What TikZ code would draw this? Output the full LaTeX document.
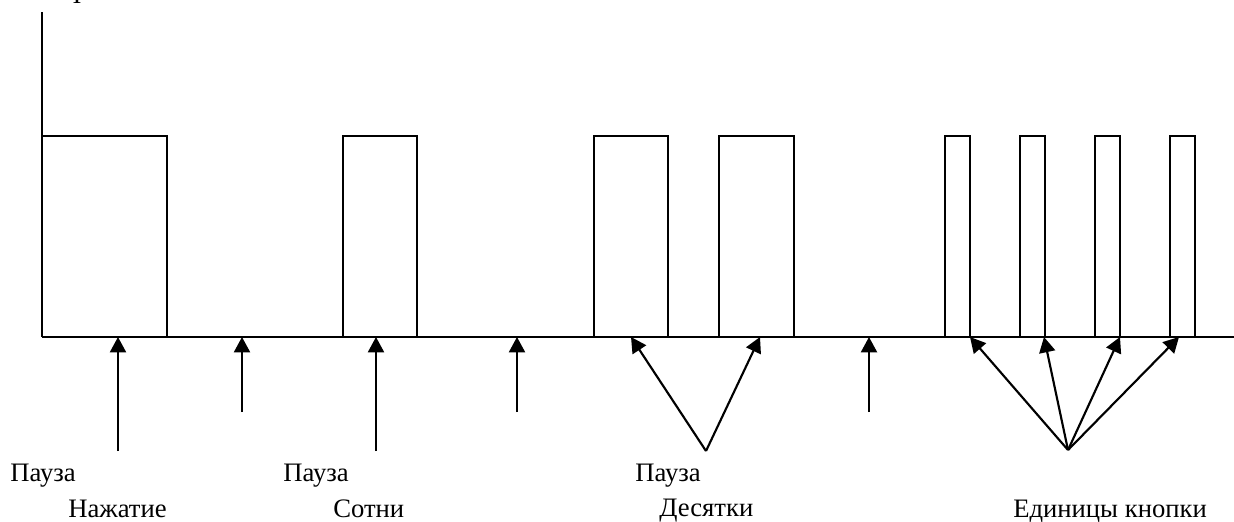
\documentclass[tikz,border=0pt]{standalone}
\usepackage{fontspec}
\setmainfont{Liberation Serif}
\usetikzlibrary{arrows.meta}
\tikzset{
  wave/.style={line width=1.6pt, line join=miter},
  ptr/.style={line width=1.6pt, -{Triangle[length=11.5pt,width=12pt]}},
  lbl/.style={anchor=base west, inner sep=0pt, font=\fontsize{20}{24}\selectfont}
}
\begin{document}
\begin{tikzpicture}[x=0.75pt,y=-0.75pt]
\useasboundingbox (0,0) rectangle (1234,521);

% axis label (top edge) and vertical axis
\node[lbl, anchor=base] (ax) at (77,3) {I};
\draw[wave] (42,12) -- (42,337);

% time axis
\draw[wave] (42,337) -- (1234,337);

% pulses: press, hundreds, tens, units
\foreach \a/\b in {42/167, 343/417, 594/668, 719/794, 945/970, 1020/1045, 1095/1120, 1170/1195}
  \draw[wave] (\a,337) -- (\a,136) -- (\b,136) -- (\b,337);

% arrow tips on the time axis
\coordinate (t1) at (118,337);
\coordinate (t2) at (242,337);
\coordinate (t3) at (376,337);
\coordinate (t4) at (517,337);
\coordinate (t5) at (869,337);
\coordinate (d1) at (631,337);
\coordinate (d2) at (760,337);
\coordinate (u1) at (970,337);
\coordinate (u2) at (1044,337);
\coordinate (u3) at (1120,337);
\coordinate (u4) at (1179,337);

% arrow tails
\coordinate (s1) at (118,451);
\coordinate (s2) at (242,412);
\coordinate (s3) at (376,451);
\coordinate (s4) at (517,412);
\coordinate (s5) at (869,412);
\coordinate (dsrc) at (706,451);
\coordinate (usrc) at (1068,450);

\draw[ptr] (s1) -- (t1);
\draw[ptr] (s2) -- (t2);
\draw[ptr] (s3) -- (t3);
\draw[ptr] (s4) -- (t4);
\draw[ptr] (s5) -- (t5);
\draw[ptr] (dsrc) -- (d1);
\draw[ptr] (dsrc) -- (d2);
\foreach \u in {u1,u2,u3,u4}
  \draw[ptr] (usrc) -- (\u);

% labels
\node[lbl] (p1) at (10,481) {Пауза};
\node[lbl] (n1) at (68,517) {Нажатие};
\node[lbl] (p2) at (283,481) {Пауза};
\node[lbl] (n2) at (333,517) {Сотни};
\node[lbl] (p3) at (635,481) {Пауза};
\node[lbl] (n3) at (659,516) {Десятки};
\node[lbl] (n4) at (1013,517) {Единицы кнопки};
\end{tikzpicture}
\end{document}
